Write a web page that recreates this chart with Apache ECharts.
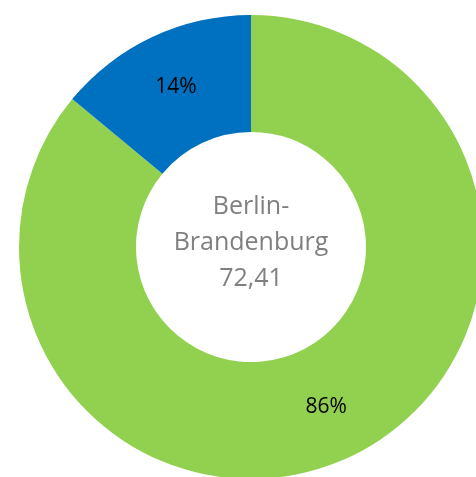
<!DOCTYPE html>
<html lang="de">
<head>
    <meta charset="UTF-8">
    <script src="https://cdn.jsdelivr.net/npm/echarts@6/dist/echarts.min.js"></script>
    <title>Berlin-Brandenburg</title>
    <style>
        html, body { margin: 0; padding: 0; background: #fff; }
        #chart { width: 476px; height: 477px; }
    </style>
</head>
<body>
<div id="chart"></div>
<script>
    // Anteile
    let names = ['Grün', 'Blau'];
    let values = [86, 14];
    let colors = ['#92D050', '#0070C0'];
    let centerLines = ['Berlin-', 'Brandenburg', '72,41'];

    let myChart = echarts.init(document.getElementById('chart'));

    let data = [];
    for (let i = 0; i < values.length; i++) {
        data.push({ name: names[i], value: values[i], itemStyle: { color: colors[i] } });
    }

    let option = {
        animation: false,
        series: [{
            type: 'pie',
            center: [251, 247],
            radius: [115, 232],
            startAngle: 90,
            clockwise: true,
            silent: true,
            itemStyle: { borderWidth: 0 },
            label: {
                show: true,
                position: 'inside',
                color: '#000',
                fontFamily: 'Open Sans',
                fontSize: 21,
                formatter: function (p) { return p.value + '%'; }
            },
            labelLine: { show: false },
            data: data
        }],
        graphic: [{
            type: 'text',
            x: 251,
            y: 243,
            style: {
                text: centerLines.join('\n'),
                fill: '#7f7f7f',
                font: '25px "Open Sans"',
                lineHeight: 36,
                align: 'center',
                verticalAlign: 'middle'
            }
        }]
    };
    myChart.setOption(option);
</script>
</body>
</html>
